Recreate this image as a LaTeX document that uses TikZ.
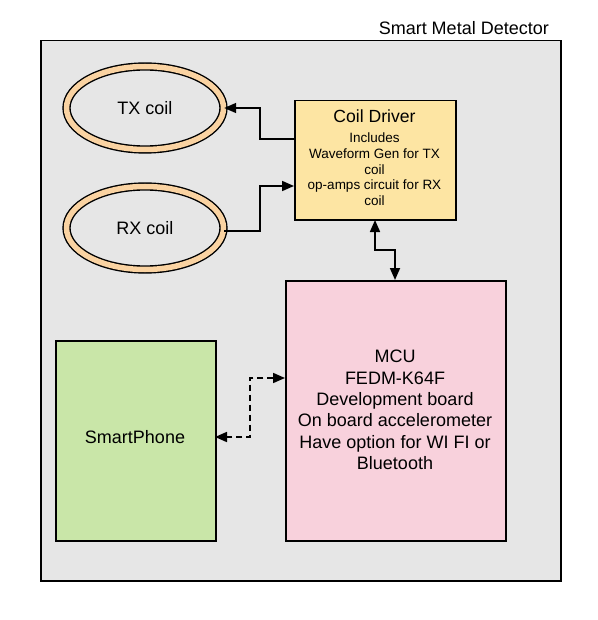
\documentclass[tikz,border=0pt]{standalone}
\usepackage{fontspec}
\setmainfont{Liberation Sans}
\usetikzlibrary{shapes.geometric,arrows.meta}
\definecolor{bggray}{HTML}{E6E6E6}
\definecolor{coilband}{HTML}{FAD3A2}
\definecolor{drvfill}{HTML}{FDE5A3}
\definecolor{mcufill}{HTML}{F8D1DC}
\definecolor{phonefill}{HTML}{C9E6A8}
\tikzset{
  coilnode/.style={ellipse, draw=black, double=coilband, double distance=5.5pt, line width=1.4pt, fill=bggray, minimum width=157pt, minimum height=83pt, inner sep=0pt, font=\fontsize{18}{21}\selectfont},
  boxnode/.style={draw=black, line width=1.5pt, inner sep=0pt, align=center},
  conn/.style={line width=1.7pt, -{Triangle[length=12pt,width=10pt]}},
  dconn/.style={line width=1.7pt, {Triangle[length=12pt,width=10pt]}-{Triangle[length=12pt,width=10pt]}},
}
\begin{document}
\begin{tikzpicture}[x=1pt,y=-1pt]
\useasboundingbox (0,0) rectangle (597,620);
\fill[white] (0,0) rectangle (597,620);
% outer frame
\node[draw=black, line width=1.5pt, fill=bggray, minimum width=520pt, minimum height=540pt, inner sep=0pt, anchor=north west] (frame) at (40,40) {};
\node[anchor=base east, font=\fontsize{18}{21}\selectfont, inner sep=0pt] (title) at (549,35) {Smart Metal Detector};
% coils
\node[coilnode] (tx) at (145,108) {TX coil};
\node[coilnode] (rx) at (145,228) {RX coil};
% coil driver
\node[boxnode, fill=drvfill, minimum width=161pt, minimum height=119pt, anchor=north west] (drv) at (294,100) {};
\node[align=center, inner sep=0pt, anchor=base, font=\fontsize{17.6}{20}\selectfont] (drvtitle) at (374.5,123) {Coil Driver};
\node[align=center, inner sep=0pt, anchor=north, font=\fontsize{13.5}{15.8}\selectfont] (drvtext) at (374.5,132.5) {Includes\\Waveform Gen for TX\\coil\\op-amps circuit for RX\\coil};
% MCU
\node[boxnode, fill=mcufill, minimum width=220pt, minimum height=260pt, anchor=north west] (mcu) at (285,280) {};
\node[align=center, inner sep=0pt, font=\fontsize{18}{21.3}\selectfont] (mcutext) at (395,410) {MCU\\FEDM-K64F\\Development board\\On board accelerometer\\Have option for WI FI or\\Bluetooth};
% SmartPhone
\node[boxnode, fill=phonefill, minimum width=160pt, minimum height=200pt, anchor=north west] (phone) at (55,340) {};
\node[inner sep=0pt, font=\fontsize{18}{21}\selectfont] (phonetext) at (135,437) {SmartPhone};
% connectors
\coordinate (d1) at (294,139);
\coordinate (r1) at (294,186);
\draw[conn] (d1) -| (260,108) -- (tx.east);
\draw[conn] (rx.east |- 0,231) -| (260,186) -- (r1);
\draw[dconn] (375,220) |- (395,250) -- (395,280);
\draw[dconn, dashed, dash pattern=on 6pt off 4pt] (285,378) -| (250,437) -- (215,437);
\end{tikzpicture}
\end{document}
